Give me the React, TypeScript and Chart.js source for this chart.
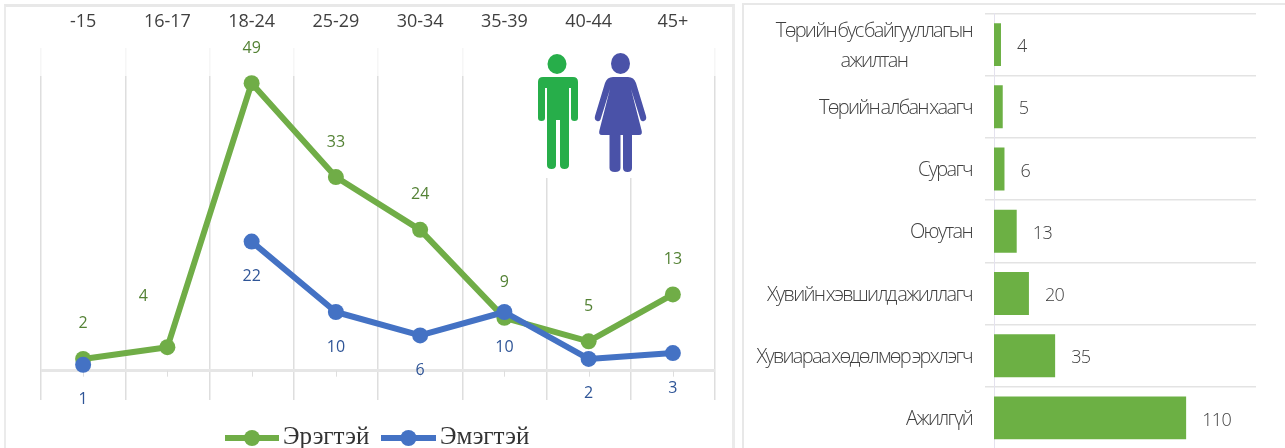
import React, { useEffect, useRef } from "react";
import { Chart, registerables } from "chart.js";

Chart.register(...registerables);

const ageGroups = ["-15", "16-17", "18-24", "25-29", "30-34", "35-39", "40-44", "45+"];
const maleValues = [2, 4, 49, 33, 24, 9, 5, 13];
const femaleValues: (number | null)[] = [1, null, 22, 10, 6, 10, 2, 3];
const seriesNames = ["Эрэгтэй", "Эмэгтэй"];

const occupations: string[][] = [
  ["Төрийн бус байгууллагын", "ажилтан"],
  ["Төрийн албан хаагч"],
  ["Сурагч"],
  ["Оюутан"],
  ["Хувийн хэвшилд ажиллагч"],
  ["Хувиараа хөдөлмөр эрхлэгч"],
  ["Ажилгүй"],
];
const occupationValues = [4, 5, 6, 13, 20, 35, 110];

const MALE = "#70AD47";
const FEMALE = "#4472C4";
const MALE_TEXT = "#548235";
const FEMALE_TEXT = "#2F5597";
const GRID = "#DEDEDE";
const FONT = "'Open Sans', 'Noto Sans', sans-serif";

const linePlugin = {
  id: "lineDecor",
  beforeDatasetsDraw(chart: any) {
    const { ctx, scales } = chart;
    const x = scales.x;
    const y = scales.y;
    ctx.save();
    // faded top band and white backing of the figures
    ctx.fillStyle = "rgba(255,255,255,0.72)";
    ctx.fillRect(x.left - 3, y.top - 2, 480, 30);
    ctx.fillRect(x.right - 3, y.top - 2, 6, 30);
    ctx.fillStyle = "#fff";
    ctx.fillRect(535, y.top - 2, 120, 132);
    // tick marks under the zero line
    ctx.strokeStyle = GRID;
    ctx.lineWidth = 1;
    const zero = y.getPixelForValue(0);
    ageGroups.forEach((_, i) => {
      const px = Math.round(x.getPixelForTick(i)) + 0.5;
      ctx.beginPath();
      ctx.moveTo(px, zero);
      ctx.lineTo(px, zero + 6);
      ctx.stroke();
    });
    ctx.restore();
  },
  afterDatasetsDraw(chart: any) {
    const { ctx, scales } = chart;
    const x = scales.x;
    const y = scales.y;
    ctx.save();
    ctx.font = `16px ${FONT}`;
    ctx.textAlign = "center";
    ctx.textBaseline = "middle";
    ctx.fillStyle = MALE_TEXT;
    maleValues.forEach((v, i) => {
      const shiftX = i === 1 ? -24 : 0;
      const shiftY = i === 1 ? -51 : -35;
      ctx.fillText(String(v), x.getPixelForTick(i) + shiftX, y.getPixelForValue(v) + shiftY);
    });
    ctx.fillStyle = FEMALE_TEXT;
    femaleValues.forEach((v, i) => {
      if (v === null) return;
      ctx.fillText(String(v), x.getPixelForTick(i), y.getPixelForValue(v) + 35);
    });
    // legend
    const legend = [
      { name: seriesNames[0], color: MALE, x0: 225, x1: 279, tx: 283 },
      { name: seriesNames[1], color: FEMALE, x0: 381, x1: 436, tx: 440 },
    ];
    const ly = 438;
    ctx.font = "25px 'Liberation Serif', serif";
    ctx.textAlign = "left";
    legend.forEach((l) => {
      ctx.strokeStyle = l.color;
      ctx.lineWidth = 6;
      ctx.beginPath();
      ctx.moveTo(l.x0, ly);
      ctx.lineTo(l.x1, ly);
      ctx.stroke();
      ctx.fillStyle = l.color;
      ctx.beginPath();
      ctx.arc((l.x0 + l.x1) / 2, ly, 8, 0, Math.PI * 2);
      ctx.fill();
      ctx.fillStyle = "#333";
      ctx.fillText(l.name, l.tx, ly - 1);
    });
    ctx.restore();
  },
};

const barPlugin = {
  id: "barDecor",
  afterDatasetsDraw(chart: any) {
    const { ctx, scales } = chart;
    const x = scales.x;
    const y = scales.y;
    ctx.save();
    ctx.fillStyle = "#404040";
    ctx.textBaseline = "middle";
    ctx.font = `300 20px ${FONT}`;
    (ctx as any).letterSpacing = "-1.7px";
    (ctx as any).wordSpacing = "-2px";
    ctx.textAlign = "center";
    occupations.forEach((lines, i) => {
      const cy = y.getPixelForValue(i) + 1.5;
      const width = Math.max(...lines.map((l) => ctx.measureText(l).width));
      const cx = y.left + 228 - width / 2;
      lines.forEach((line, k) => {
        ctx.fillText(line, cx, cy + (k - (lines.length - 1) / 2) * 30);
      });
    });
    (ctx as any).letterSpacing = "-0.6px";
    (ctx as any).wordSpacing = "0px";
    ctx.font = `300 18px ${FONT}`;
    ctx.textAlign = "left";
    occupationValues.forEach((v, i) => {
      ctx.fillText(String(v), x.getPixelForValue(v) + 16, y.getPixelForValue(i) + 2.5);
    });
    ctx.restore();
  },
};

const figureBox: React.CSSProperties = { position: "absolute", left: 530, top: 44, pointerEvents: "none" };

export default function App() {
  const lineRef = useRef<HTMLCanvasElement>(null);
  const barRef = useRef<HTMLCanvasElement>(null);

  useEffect(() => {
    document.body.style.margin = "0";
    const line = new Chart(lineRef.current!, {
      type: "line",
      data: {
        labels: ageGroups,
        datasets: [
          {
            label: seriesNames[0],
            data: maleValues,
            borderColor: MALE,
            backgroundColor: MALE,
            borderWidth: 6,
            pointRadius: 8,
            pointBackgroundColor: MALE,
            pointBorderWidth: 0,
            borderJoinStyle: "round",
            borderCapStyle: "round",
            order: 2,
          },
          {
            label: seriesNames[1],
            data: femaleValues,
            borderColor: FEMALE,
            backgroundColor: FEMALE,
            borderWidth: 6,
            pointRadius: 8,
            pointBackgroundColor: FEMALE,
            pointBorderWidth: 0,
            spanGaps: false,
            borderJoinStyle: "round",
            borderCapStyle: "round",
            order: 1,
          },
        ],
      },
      options: {
        responsive: false,
        animation: false,
        layout: { padding: { left: 0, top: 0, right: 25, bottom: 48 } },
        plugins: { legend: { display: false }, tooltip: { enabled: false } },
        scales: {
          x: {
            position: "top",
            offset: true,
            grid: { offset: true, color: GRID, lineWidth: 1.5, drawTicks: false },
            border: { display: false },
            ticks: { color: "#404040", font: { size: 18, family: FONT }, padding: 15, maxRotation: 0, autoSkip: false },
            afterFit: (s: any) => {
              s.height = 48;
            },
          },
          y: {
            min: -5,
            max: 55,
            grid: {
              drawTicks: false,
              color: (c: any) => (c.tick && c.tick.value === 0 ? "#E6E6E6" : "transparent"),
              lineWidth: (c: any) => (c.tick && c.tick.value === 0 ? 3 : 0),
            },
            border: { display: false },
            ticks: { display: false, stepSize: 5 },
            afterFit: (s: any) => {
              s.width = 41;
            },
          },
        },
      },
      plugins: [linePlugin],
    } as any);

    const bar = new Chart(barRef.current!, {
      type: "bar",
      data: {
        labels: occupations.map((o) => o.join(" ")),
        datasets: [
          {
            data: occupationValues,
            backgroundColor: "#6CB044",
            categoryPercentage: 1,
            barPercentage: 0.69,
          },
        ],
      },
      options: {
        indexAxis: "y",
        responsive: false,
        animation: false,
        layout: { padding: { left: 0, top: 13.5, right: 29, bottom: 21 } },
        plugins: { legend: { display: false }, tooltip: { enabled: false } },
        scales: {
          x: { display: false, min: 0, max: 150 },
          y: {
            grid: { color: "#E3E3E3", lineWidth: 1.5, tickLength: 9 },
            border: { color: "#E4E2EE", width: 1 },
            ticks: { display: false },
            afterFit: (s: any) => {
              s.width = 250;
            },
          },
        },
      },
      plugins: [barPlugin],
    } as any);

    return () => {
      line.destroy();
      bar.destroy();
    };
  }, []);

  return (
    <div style={{ position: "relative", width: 1285, height: 448, overflow: "hidden", background: "#fff" }}>
      <canvas ref={lineRef} width={740} height={448} style={{ position: "absolute", left: 0, top: 0 }} />
      <canvas ref={barRef} width={541} height={470} style={{ position: "absolute", left: 744, top: 0 }} />
      <div style={{ position: "absolute", left: 4, top: 4, width: 726, height: 460, borderLeft: "2px solid #EBEBEB", borderTop: "3px solid #E8E8E8", borderRight: "3px solid #EBEBEB" }} />
      <div style={{ position: "absolute", left: 742, top: 3, width: 560, height: 460, borderLeft: "2px solid #E8E8E8", borderTop: "2px solid #E8E8E8" }} />
      <svg width={125} height={132} style={figureBox}>
        <g fill="#27AE4A">
          <ellipse cx={27} cy={20} rx={9.5} ry={10} />
          <path d="M13 33 H43 Q48 33 48 38 V74 Q48 77 44.5 77 Q41 77 41 74 V44 H39 V121 Q39 125 34.5 125 Q30 125 30 121 V76 H26 V121 Q26 125 21.5 125 Q17 125 17 121 V44 H15 V74 Q15 77 11.5 77 Q8 77 8 74 V38 Q8 33 13 33 Z" />
        </g>
        <g fill="#4A52A8">
          <ellipse cx={90.5} cy={19.5} rx={9.5} ry={10.5} />
          <path d="M83 33 H98 Q104 33 106 39 L116 72 Q117 76 114 77 Q111 78 110 74 L101 45 L111.5 86 Q113 91 109 91 H102 V124 Q102 128 97.5 128 Q93 128 93 124 V91 H90.5 V124 Q90.5 128 85 128 Q79.5 128 79.5 124 V91 H72 Q68 91 69.5 86 L80 45 L71 74 Q70 78 67 77 Q64 76 65 72 L75 39 Q77 33 83 33 Z" />
        </g>
      </svg>
    </div>
  );
}
